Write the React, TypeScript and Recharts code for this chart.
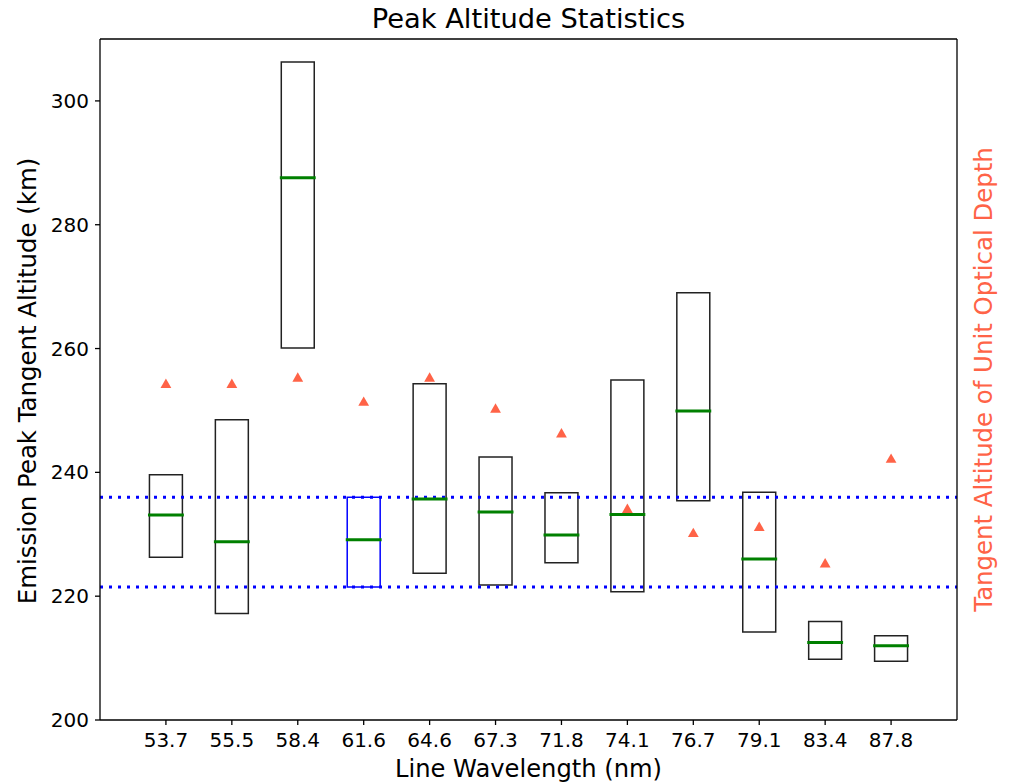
import React from 'react';
import { ComposedChart, XAxis, YAxis, Scatter, ReferenceArea, ReferenceLine } from 'recharts';

const categories = ['53.7', '55.5', '58.4', '61.6', '64.6', '67.3', '71.8', '74.1', '76.7', '79.1', '83.4', '87.8'];
const boxLow = [226.3, 217.2, 260.1, 221.5, 223.7, 221.8, 225.4, 220.7, 235.4, 214.2, 209.8, 209.5];
const boxHigh = [239.6, 248.5, 306.3, 236.0, 254.3, 242.5, 236.7, 254.9, 269.0, 236.8, 215.9, 213.6];
const medians = [233.1, 228.8, 287.6, 229.1, 235.7, 233.6, 229.9, 233.2, 249.9, 226.0, 212.5, 212.0];
const unitDepth = [254.4, 254.4, 255.4, 251.5, 255.4, 250.4, 246.4, 234.2, 230.3, 231.3, 225.4, 242.3];
const highlightIndex = 3;
const bandLimits = [221.5, 236.0];
const yTicks = [200, 220, 240, 260, 280, 300];
const yDomain = [200, 310];
const xDomain = [0, 13];

const FONT = '"DejaVu Sans", Verdana, sans-serif';
const W = 1009;
const H = 782;
const BOX_HALF = 0.25;
const MED_HALF = 0.272;

const rows = categories.map((c, i) => ({ x: i + 1, label: c, depth: unitDepth[i] }));
const xTicks = rows.map((r) => r.x);

const Triangle = (props: any) => {
  const { cx, cy } = props;
  if (cx == null || cy == null) return null;
  const w = 5.4;
  const h = 4.7;
  return <polygon points={`${cx},${cy - h} ${cx - w},${cy + h} ${cx + w},${cy + h}`} fill="#ff6347" />;
};

export default function App() {
  const axisStroke = { stroke: '#000', strokeWidth: 1.3 };
  return (
    <div style={{ position: 'absolute', left: 0, top: 0, width: W, height: H, background: '#fff' }}>
      <ComposedChart width={W} height={H} data={rows} margin={{ top: 39, right: 0, bottom: 0, left: 0 }}>
        <XAxis
          dataKey="x"
          type="number"
          xAxisId="b"
          domain={xDomain}
          ticks={xTicks}
          interval={0}
          allowDataOverflow
          height={62}
          tickSize={5}
          tickMargin={8}
          axisLine={axisStroke}
          tickLine={axisStroke}
          tick={{ fill: '#000', fontSize: 20, fontFamily: FONT }}
          tickFormatter={(v: number) => categories[v - 1] ?? ''}
        />
        <YAxis
          yAxisId="left"
          type="number"
          domain={yDomain}
          ticks={yTicks}
          allowDataOverflow
          width={100}
          tickSize={5}
          tickMargin={6}
          axisLine={axisStroke}
          tickLine={axisStroke}
          tick={{ fill: '#000', fontSize: 20, fontFamily: FONT }}
        />
        <YAxis
          yAxisId="right"
          orientation="right"
          type="number"
          domain={yDomain}
          ticks={yTicks}
          allowDataOverflow
          width={52}
          tickSize={5}
          axisLine={axisStroke}
          tickLine={axisStroke}
          tick={false}
        />
        <ReferenceLine xAxisId="b" yAxisId="left" y={yDomain[1]} stroke="#000" strokeWidth={1.3} />
        {rows.map((r, i) => (
          <ReferenceArea
            key={`box-${i}`}
            xAxisId="b"
            yAxisId="left"
            x1={r.x - BOX_HALF}
            x2={r.x + BOX_HALF}
            y1={boxLow[i]}
            y2={boxHigh[i]}
            fill="none"
            fillOpacity={0}
            stroke={i === highlightIndex ? '#0000ff' : '#222'}
            strokeWidth={1.5}
            strokeOpacity={1}
          />
        ))}
        {bandLimits.map((v, i) => (
          <ReferenceLine
            key={`band-${i}`}
            xAxisId="b"
            yAxisId="left"
            y={v}
            stroke="#0000ff"
            strokeWidth={3}
            strokeDasharray="3 6"
          />
        ))}
        {rows.map((r, i) => (
          <ReferenceLine
            key={`med-${i}`}
            xAxisId="b"
            yAxisId="left"
            segment={[
              { x: r.x - MED_HALF, y: medians[i] },
              { x: r.x + MED_HALF, y: medians[i] },
            ]}
            stroke="#008000"
            strokeWidth={3}
          />
        ))}
        <Scatter
          xAxisId="b"
          yAxisId="right"
          dataKey="depth"
          shape={Triangle}
          isAnimationActive={false}
        />
      </ComposedChart>
      <svg
        width={W}
        height={H}
        style={{ position: 'absolute', left: 0, top: 0, pointerEvents: 'none' }}
      >
        <text x={528.5} y={28} textAnchor="middle" fontSize={27.3} fontFamily={FONT} fill="#000">
          Peak Altitude Statistics
        </text>
        <text x={528.5} y={776.5} textAnchor="middle" fontSize={24.2} fontFamily={FONT} fill="#000">
          Line Wavelength (nm)
        </text>
        <text
          transform="translate(36,381) rotate(-90)"
          textAnchor="middle"
          fontSize={24.4}
          fontFamily={FONT}
          fill="#000"
        >
          Emission Peak Tangent Altitude (km)
        </text>
        <text
          transform="translate(991.5,379.5) rotate(-90)"
          textAnchor="middle"
          fontSize={24.4}
          fontFamily={FONT}
          fill="#ff6347"
        >
          Tangent Altitude of Unit Optical Depth
        </text>
      </svg>
    </div>
  );
}
